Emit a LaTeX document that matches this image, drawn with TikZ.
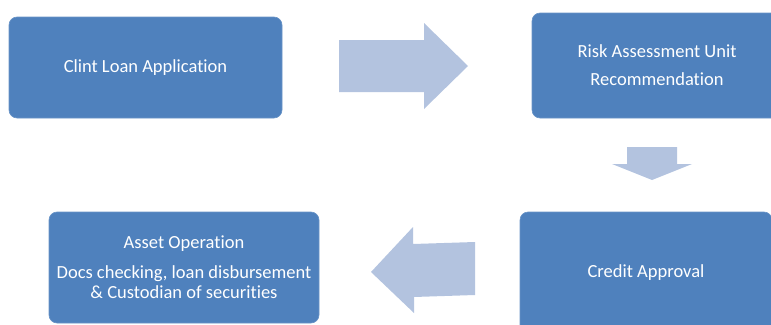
\documentclass[tikz,border=0pt]{standalone}
\usepackage{fontspec}
\setmainfont{Carlito}[Ligatures=NoCommon]
\definecolor{boxblue}{HTML}{4F81BD}
\definecolor{arrowblue}{HTML}{B3C3DF}
\begin{document}
\begin{tikzpicture}[x=1pt,y=-1pt,
  procbox/.style={fill=boxblue, draw=boxblue!85!white, line width=0.6pt, rounded corners=8pt,
    text=white, align=center, inner sep=0pt,
    font=\fontsize{18.5}{28}\selectfont},
  blockarrow/.style={fill=arrowblue, draw=none}]
\useasboundingbox (0,0) rectangle (771,324);
\clip (0,0) rectangle (771,324);
\node[procbox, minimum width=273pt, minimum height=101pt] (app) at (145.5,67.5) {Clint Loan Application};
\node[procbox, minimum width=250pt, minimum height=105pt] (risk) at (657,65.5) {Risk Assessment Unit\\Recommendation};
\node[procbox, minimum width=252pt, minimum height=122pt] (credit) at (646,273) {Credit Approval};
\node[procbox, minimum width=270pt, minimum height=111pt, font=\fontsize{18.5}{20}\selectfont] (asset) at (184,267.5) {Asset Operation\\[10pt]Docs checking, loan disbursement\\\& Custodian of securities};
% block arrows
\fill[blockarrow] (339,40) -- (424,40) -- (424,23) -- (468,66) -- (424,109) -- (424,92) -- (339,92) -- cycle;
\fill[blockarrow] (627,147) -- (677,147) -- (677,164) -- (692,164) -- (652,180) -- (612,164) -- (627,164) -- cycle;
\fill[blockarrow] (475,242) -- (413,244) -- (413,227) -- (371,272) -- (414,313) -- (414,297) -- (475,295) -- cycle;
\end{tikzpicture}
\end{document}
